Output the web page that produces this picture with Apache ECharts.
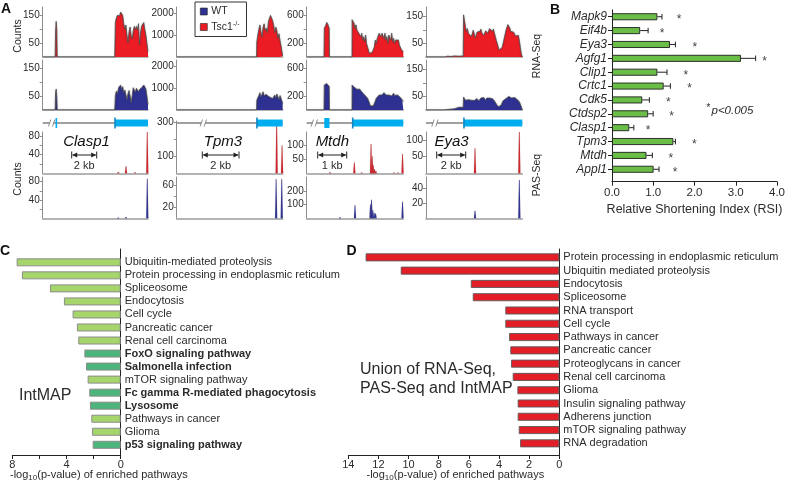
<!DOCTYPE html>
<html>
<head>
<meta charset="utf-8">
<script src="https://cdn.jsdelivr.net/npm/echarts@6.0.0/dist/echarts.min.js"></script>
<style>
html,body{margin:0;padding:0;background:#fff;}
#chart{width:788px;height:489px;}
</style>
</head>
<body>
<div id="chart"></div>
<script>
// ====================== DATA ======================
// Panel A - RNA-Seq coverage (position = % of displayed locus, value = counts)
const clasp1Pos = [0, 11.8, 12.2, 12.8, 13.4, 13.8, 68.4, 69, 70, 71, 72, 73, 74, 75, 76, 77, 78, 79, 80, 81, 82, 83, 84, 85, 86, 87, 88, 89, 90, 91, 92, 93, 94, 95, 96, 97, 98, 99, 100];
const clasp1Tsc = [0, 0, 90, 128, 100, 0, 0, 125, 141, 150, 152, 148, 162, 165, 150, 120, 100, 115, 80, 52, 90, 108, 78, 65, 95, 110, 100, 110, 98, 120, 45, 90, 112, 117, 124, 100, 80, 50, 20];
const clasp1WT  = [0, 0, 60, 75, 48, 0, 0, 52, 68, 58, 80, 86, 90, 74, 84, 62, 72, 70, 38, 58, 70, 50, 26, 52, 80, 74, 64, 78, 82, 66, 74, 72, 80, 78, 90, 95, 76, 50, 20];

const tpm3Pos = [0, 75.3, 75.6, 76.5, 77.5, 78.5, 79.5, 80.5, 81.5, 82.5, 83.5, 84.5, 85.5, 86.5, 87.5, 88.5, 89.5, 90.5, 91.5, 92.5, 93.5, 94.5, 95.5, 96.5, 97.5, 98.5, 99.5, 100];
const tpm3Tsc = [0, 0, 700, 1000, 1250, 1450, 1150, 900, 1350, 1500, 1200, 1300, 1100, 1600, 1750, 1880, 1800, 1650, 1450, 1100, 1350, 1200, 850, 1050, 750, 500, 200, 50];
const tpm3WT  = [0, 0, 450, 550, 650, 780, 600, 700, 820, 650, 560, 700, 760, 620, 700, 560, 640, 520, 600, 680, 540, 720, 600, 480, 650, 520, 450, 300];

const mtdhPos = [0, 17.9, 18.2, 19.5, 20.8, 22.1, 23.3, 23.6, 46.9, 47, 48, 49, 50, 51, 52, 53, 54, 55, 56, 57, 58, 59, 60, 61, 62, 63, 64, 65, 66, 67, 68, 69, 70, 71, 72, 73, 74, 75, 76, 77, 78, 79, 80, 81, 82, 83, 84, 85, 86, 87, 88, 89, 90, 91, 92, 93, 94, 95, 96, 97, 98, 99, 100];
const mtdhTsc = [0, 0, 415, 449, 498, 463, 415, 0, 0, 537, 512, 488, 415, 463, 390, 415, 342, 366, 293, 342, 244, 293, 220, 317, 195, 146, 98, 49, 59, 39, 73, 98, 146, 244, 195, 268, 244, 342, 366, 293, 342, 317, 268, 342, 244, 293, 195, 317, 293, 244, 342, 220, 268, 195, 244, 220, 268, 244, 171, 146, 110, 90, 73];
const mtdhWT  = [0, 0, 360, 374, 380, 360, 340, 0, 0, 360, 350, 330, 340, 310, 298, 320, 278, 300, 312, 260, 240, 230, 216, 200, 192, 170, 144, 100, 58, 50, 48, 60, 72, 130, 168, 180, 192, 215, 240, 225, 216, 235, 250, 230, 216, 200, 192, 215, 230, 210, 202, 225, 240, 210, 192, 205, 216, 200, 192, 180, 160, 144, 120];

const eya3Pos = [0, 19.5, 22, 26, 30, 34, 38.6, 39, 40, 41, 42, 43, 44, 45, 46, 47, 48, 49, 50, 51, 52, 53, 54, 55, 56, 57, 58, 59, 60, 61, 62, 63, 64, 65, 66, 67, 68, 69, 70, 71, 72, 73, 74, 75, 76, 77, 78, 79, 80, 81, 82, 83, 84, 85, 86, 87, 88, 89, 90, 91, 92, 93, 94, 95, 96, 97, 98, 99, 100];
const eya3Tsc = [0, 0, 3, 2, 4, 3, 4, 156, 135, 112, 95, 105, 88, 82, 93, 76, 86, 99, 88, 72, 80, 92, 88, 98, 95, 103, 90, 92, 80, 84, 97, 95, 88, 96, 105, 110, 100, 95, 104, 90, 76, 62, 51, 38, 26, 20, 23, 35, 50, 66, 82, 98, 105, 120, 120, 108, 95, 95, 98, 92, 85, 78, 83, 76, 80, 60, 36, 12, 0];
const eya3WT  = [0, 0, 2, 3, 5, 10, 10, 48, 44, 36, 40, 32, 38, 34, 40, 36, 32, 38, 35, 40, 36, 42, 38, 34, 40, 44, 38, 42, 46, 40, 36, 44, 40, 48, 44, 40, 46, 42, 38, 34, 28, 22, 16, 12, 10, 12, 18, 26, 34, 40, 36, 42, 48, 44, 50, 46, 52, 44, 48, 42, 46, 40, 44, 38, 42, 30, 24, 12, 0];

// Panel A - PAS-Seq read peaks [position %, counts]
const clasp1PasTsc = [[71.8, 3], [79.1, 15], [87.7, 2], [99.3, 88]];
const clasp1PasWT  = [[71.8, 2], [79.1, 3], [99.3, 86]];
const tpm3PasTsc = [[94.3, 300], [99.4, 165]];
const tpm3PasWT  = [[93.8, 70], [99.1, 70]];
const mtdhPasTsc = [[24.1, 4], [49.3, 38], [56.9, 3], [66.6, 103], [67.8, 60], [68.9, 28], [70.2, 14], [71.6, 8], [90.4, 3], [94.5, 3], [99.2, 68]];
const mtdhPasWT  = [[34.5, 8], [50.0, 95], [66.0, 100], [67.1, 135], [68.4, 60], [69.8, 40], [71.3, 35], [99.2, 120]];
const eya3PasTsc = [[50.9, 75], [96.9, 124]];
const eya3PasWT  = [[50.9, 10], [96.9, 51]];

// Gene models: exons [start %, end %, terminal exon flag], intron break position
const clasp1Exons = [[12.2, 13.6, 0], [68.5, 100, 1]];
const tpm3Exons = [[75.5, 100, 1]];
const mtdhExons = [[18.2, 23.6, 0], [47.4, 100, 1]];
const eya3Exons = [[39.2, 100, 1]];
const geneNames = ['Clasp1', 'Tpm3', 'Mtdh', 'Eya3'];
const geneBreaks = [8.5, 25.1, 7.9, 9.3];
const scaleBarLabels = ['2 kb', '2 kb', '1 kb', '2 kb'];

// Axis scales / tick labels for panel A
const rnaMax = [180, 2260, 720, 185];
const rnaTicks = [[50, 100, 150], [1000, 2000], [200, 400, 600], [50, 100, 150]];
const rnaLabels = [[50, 150], [1000, 2000], [200, 600], [50, 150]];
const pasTscMax = [88, 310, 145, 124];
const pasTscTicks = [[20, 40, 60, 80], [100, 200, 300], [50, 100], [50, 100]];
const pasTscLabels = [[40, 80], [100, 300], [50, 100], [50, 100]];
const pasWTMax = [90, 74, 300, 55];
const pasWTTicks = [[20, 40, 60, 80], [20, 40, 60], [100, 200], [20, 40]];
const pasWTLabels = [[40, 80], [20, 60], [100, 200], [20, 40]];

// Panel B
const bGenes = ['Mapk9', 'Eif4b', 'Eya3', 'Agfg1', 'Clip1', 'Crtc1', 'Cdk5', 'Ctdsp2', 'Clasp1', 'Tpm3', 'Mtdh', 'Appl1'];
const bRSI = [1.08, 0.67, 1.38, 3.07, 1.08, 1.23, 0.72, 0.86, 0.41, 1.46, 0.82, 0.99];
const bErr = [0.11, 0.19, 0.13, 0.35, 0.23, 0.16, 0.17, 0.12, 0.11, 0.05, 0.14, 0.13];
const bStarAt = [1.60, 1.19, 1.97, 3.63, 1.76, 1.85, 1.34, 1.42, 0.86, 1.96, 1.40, 1.50];
const bTicks = [0, 1, 2, 3, 4];

// Panel C
const cPathways = ['Ubiquitin-mediated proteolysis', 'Protein processing in endoplasmic reticulum', 'Spliceosome', 'Endocytosis', 'Cell cycle', 'Pancreatic cancer', 'Renal cell carcinoma', 'FoxO signaling pathway', 'Salmonella infection', 'mTOR signaling pathway', 'Fc gamma R-mediated phagocytosis', 'Lysosome', 'Pathways in cancer', 'Glioma', 'p53 signaling pathway'];
const cValues = [7.68, 7.29, 5.22, 4.19, 3.55, 3.23, 3.13, 2.68, 2.56, 2.44, 2.32, 2.27, 2.17, 2.12, 2.07];
const cIntMapOnly = [0, 0, 0, 0, 0, 0, 0, 1, 1, 0, 1, 1, 0, 0, 1];
const cTickLabels = [0, 4, 8];

// Panel D
const dPathways = ['Protein processing in endoplasmic reticulum', 'Ubiquitin mediated proteolysis', 'Endocytosis', 'Spliceosome', 'RNA transport', 'Cell cycle', 'Pathways in cancer', 'Pancreatic cancer', 'Proteoglycans in cancer', 'Renal cell carcinoma', 'Glioma', 'Insulin signaling pathway', 'Adherens junction', 'mTOR signaling pathway', 'RNA degradation'];
const dValues = [12.85, 10.52, 5.87, 5.74, 3.58, 3.58, 3.33, 3.25, 3.20, 3.09, 2.78, 2.76, 2.76, 2.69, 2.60];

// ====================== CHART ======================
const FONT = '"Liberation Sans", Arial, Helvetica, sans-serif';
const RED = '#ec1c24', BLUE = '#2e3192', CYAN = '#00aeef';
const PAS_RED = '#d3252c', PAS_BLUE = '#2e3192';
const TXT = '#2b2b2b', AX = '#8f8f8f';

const genesA = [
  {pos: clasp1Pos, tsc: clasp1Tsc, wt: clasp1WT, pTsc: clasp1PasTsc, pWT: clasp1PasWT, exons: clasp1Exons},
  {pos: tpm3Pos, tsc: tpm3Tsc, wt: tpm3WT, pTsc: tpm3PasTsc, pWT: tpm3PasWT, exons: tpm3Exons},
  {pos: mtdhPos, tsc: mtdhTsc, wt: mtdhWT, pTsc: mtdhPasTsc, pWT: mtdhPasWT, exons: mtdhExons},
  {pos: eya3Pos, tsc: eya3Tsc, wt: eya3WT, pTsc: eya3PasTsc, pWT: eya3PasWT, exons: eya3Exons}
];

const colLeft = [42.7, 176.7, 306.7, 426];
const colWidth = [105.3, 106, 96.6, 96.3];

const grid = [], xAxis = [], yAxis = [], series = [];
function addGrid(g, x, y) {
  const i = grid.length;
  grid.push(Object.assign({containLabel: false}, g));
  xAxis.push(Object.assign({gridIndex: i}, x));
  yAxis.push(Object.assign({gridIndex: i}, y));
  return i;
}
const hiddenAxis = (extra) => Object.assign({type: 'value', show: false}, extra);
const trackX = {type: 'value', min: 0, max: 100, axisLine: {show: true, lineStyle: {color: '#9c9c9c', width: 1.6}},
  axisTick: {show: false}, axisLabel: {show: false}, splitLine: {show: false}};
function trackY(max, ticks, labels) {
  return {type: 'value', min: 0, max: max,
    axisLine: {show: true, lineStyle: {color: AX, width: 1}},
    axisTick: {show: true, length: 3, customValues: ticks, lineStyle: {color: AX}},
    axisLabel: {show: true, customValues: labels, fontSize: 10, color: TXT, margin: 3, formatter: v => String(v)},
    splitLine: {show: false}};
}
function covSeries(name, gi, pos, vals, color) {
  return {name: name, type: 'line', xAxisIndex: gi, yAxisIndex: gi,
    data: pos.map((p, i) => [p, vals[i]]), symbol: 'none', showSymbol: false,
    lineStyle: {color: '#505050', width: 0.8, shadowColor: 'rgba(0,0,0,0.35)', shadowBlur: 1.5},
    areaStyle: {color: color, opacity: 1}, itemStyle: {color: color}, silent: true, z: 3, clip: true};
}
function spikeSeries(name, gi, peaks, color) {
  return {name: name, type: 'custom', xAxisIndex: gi, yAxisIndex: gi, data: peaks, silent: true, z: 3,
    itemStyle: {color: color},
    renderItem: function (params, api) {
      const b = api.coord([api.value(0), 0]);
      const t = api.coord([api.value(0), api.value(1)]);
      return {type: 'polygon', shape: {points: [[b[0] - 1.1, b[1]], [t[0] - 0.35, t[1]], [t[0] + 0.35, t[1]], [b[0] + 1.1, b[1]]]},
        style: {fill: color, stroke: 'rgba(120,120,120,0.35)', lineWidth: 0.4}};
    }};
}

const rowsA = [
  {top: 7, height: 50},
  {top: 60, height: 50},
  {top: 116, height: 14},
  {top: 132, height: 41.3},
  {top: 177, height: 41.3}
];

genesA.forEach((g, c) => {
  const L = colLeft[c], W = colWidth[c];
  const gRT = addGrid({left: L, width: W, top: rowsA[0].top, height: rowsA[0].height}, trackX, trackY(rnaMax[c], rnaTicks[c], rnaLabels[c]));
  const gRW = addGrid({left: L, width: W, top: rowsA[1].top, height: rowsA[1].height}, trackX, trackY(rnaMax[c], rnaTicks[c], rnaLabels[c]));
  const gG = addGrid({left: L, width: W, top: rowsA[2].top, height: rowsA[2].height}, hiddenAxis({min: 0, max: 100}), hiddenAxis({min: 0, max: 1}));
  const ptTop = c === 1 ? 121 : rowsA[3].top;
  const ptH = c === 1 ? 52.3 : rowsA[3].height;
  const gPT = addGrid({left: L, width: W, top: ptTop, height: ptH}, trackX, trackY(pasTscMax[c], pasTscTicks[c], pasTscLabels[c]));
  const gPW = addGrid({left: L, width: W, top: rowsA[4].top, height: rowsA[4].height}, trackX, trackY(pasWTMax[c], pasWTTicks[c], pasWTLabels[c]));

  series.push(covSeries('Tsc1-/-', gRT, g.pos, g.tsc, RED));
  series.push(covSeries('WT', gRW, g.pos, g.wt, BLUE));
  series.push(spikeSeries('Tsc1-/-', gPT, g.pTsc, PAS_RED));
  series.push(spikeSeries('WT', gPW, g.pWT, PAS_BLUE));

  // gene model backbone with break mark
  series.push({type: 'custom', xAxisIndex: gG, yAxisIndex: gG, silent: true, data: [[0, 100, geneBreaks[c]]],
    renderItem: function (params, api) {
      const a = api.coord([api.value(0), 0.5]), b = api.coord([api.value(1), 0.5]), k = api.coord([api.value(2), 0.5]);
      const y = a[1];
      return {type: 'group', children: [
        {type: 'line', shape: {x1: a[0], y1: y, x2: b[0], y2: y}, style: {stroke: '#808080', lineWidth: 1.6}},
        {type: 'rect', shape: {x: k[0] - 2, y: y - 2, width: 4, height: 4}, style: {fill: '#fff'}},
        {type: 'line', shape: {x1: k[0] - 3.2, y1: y + 3.5, x2: k[0] - 0.8, y2: y - 3.5}, style: {stroke: '#808080', lineWidth: 0.9}},
        {type: 'line', shape: {x1: k[0] + 0.8, y1: y + 3.5, x2: k[0] + 3.2, y2: y - 3.5}, style: {stroke: '#808080', lineWidth: 0.9}}
      ]};
    }});
  // exons
  series.push({type: 'custom', xAxisIndex: gG, yAxisIndex: gG, silent: true, data: g.exons, z: 4,
    renderItem: function (params, api) {
      const s = api.coord([api.value(0), 0.5]), e = api.coord([api.value(1), 0.5]);
      const terminal = api.value(2) === 1;
      const h = terminal ? 7 : 10;
      const ch = [{type: 'rect', shape: {x: s[0], y: s[1] - h / 2, width: Math.max(e[0] - s[0], 1.6), height: h}, style: {fill: CYAN}}];
      if (terminal) ch.push({type: 'rect', shape: {x: s[0] - 0.6, y: s[1] - 5.5, width: 1.6, height: 11}, style: {fill: '#1487c4'}});
      return {type: 'group', children: ch};
    }});
});

// ---- Panel B ----
const gBb = addGrid({left: 612, width: 168, top: 9.8, height: 166.4},
  {type: 'value', min: 0, max: 4, show: false},
  {type: 'category', data: bGenes, inverse: true, axisLine: {show: false},
    axisTick: {show: true, alignWithLabel: true, interval: 0, length: 4, lineStyle: {color: '#222'}},
    axisLabel: {interval: 0, fontSize: 12, fontStyle: 'italic', color: TXT, margin: 5}});
const gBa = addGrid({left: 612, width: 168, top: 9.8, height: 171.9},
  {type: 'value', min: 0, max: 4, axisLine: {lineStyle: {color: '#222', width: 1}},
    axisTick: {show: true, length: 4, customValues: bTicks, lineStyle: {color: '#222'}},
    axisLabel: {customValues: bTicks, fontSize: 11.5, color: TXT, margin: 5, formatter: v => v.toFixed(1)},
    splitLine: {show: false},
    name: 'Relative Shortening Index (RSI)', nameLocation: 'middle', nameGap: 21,
    nameTextStyle: {fontSize: 12.5, color: TXT}},
  {type: 'value', min: 0, max: 1, axisLine: {show: true, lineStyle: {color: '#222', width: 1}},
    axisTick: {show: false}, axisLabel: {show: false}, splitLine: {show: false}});
series.push({type: 'bar', xAxisIndex: gBb, yAxisIndex: gBb, data: bRSI, barWidth: 7, silent: true,
  itemStyle: {color: '#6abd46', borderColor: '#1e1e1e', borderWidth: 0.9}});
series.push({type: 'custom', xAxisIndex: gBb, yAxisIndex: gBb, silent: true, z: 4,
  data: bGenes.map((g, i) => [bRSI[i], i, bRSI[i] + bErr[i]]), encode: {x: [0, 2], y: 1},
  renderItem: function (params, api) {
    const p0 = api.coord([api.value(0), api.value(1)]), p1 = api.coord([api.value(2), api.value(1)]);
    return {type: 'group', children: [
      {type: 'line', shape: {x1: p0[0], y1: p0[1], x2: p1[0], y2: p1[1]}, style: {stroke: '#222', lineWidth: 1}},
      {type: 'line', shape: {x1: p1[0], y1: p1[1] - 2.8, x2: p1[0], y2: p1[1] + 2.8}, style: {stroke: '#222', lineWidth: 1}}
    ]};
  }});
series.push({type: 'custom', xAxisIndex: gBb, yAxisIndex: gBb, silent: true, z: 4,
  data: bGenes.map((g, i) => [bStarAt[i], i]),
  renderItem: function (params, api) {
    const p = api.coord([api.value(0), api.value(1)]);
    return {type: 'text', x: p[0], y: p[1] + 3, style: {text: '*', fontSize: 12, fontFamily: FONT, fill: '#444', align: 'center', verticalAlign: 'middle'}};
  }});

// ---- Panel C ----
const gCb = addGrid({left: 12.3, width: 108.4, top: 255.8, height: 195.5},
  {type: 'value', min: 0, max: 8, inverse: true, show: false},
  {type: 'category', data: cPathways, inverse: true, position: 'right', axisLine: {show: false}, axisTick: {show: false},
    axisLabel: {interval: 0, fontSize: 11, color: TXT, margin: 4,
      formatter: (v, i) => cIntMapOnly[i] ? '{b|' + v + '}' : v,
      rich: {b: {fontSize: 11, fontWeight: 'bold', color: TXT}}}});
const gCa = addGrid({left: 12.3, width: 108.4, top: 249, height: 206},
  {type: 'value', min: 0, max: 8, inverse: true, interval: 2, axisLine: {lineStyle: {color: '#222', width: 1}},
    axisTick: {show: true, length: 4, lineStyle: {color: '#222'}},
    axisLabel: {customValues: cTickLabels, fontSize: 11, color: TXT, margin: 4}, splitLine: {show: false}},
  {type: 'value', min: 0, max: 1, position: 'right', axisLine: {show: true, lineStyle: {color: '#222', width: 1}},
    axisTick: {show: false}, axisLabel: {show: false}, splitLine: {show: false}});
series.push({type: 'bar', xAxisIndex: gCb, yAxisIndex: gCb, data: cValues, barWidth: 8, silent: true,
  itemStyle: {borderColor: '#8c8c8c', borderWidth: 1,
    color: p => cIntMapOnly[p.dataIndex] ? '#4cb57c' : '#a6d56c'}});

// ---- Panel D ----
const gDb = addGrid({left: 348.3, width: 211, top: 250.7, height: 199.3},
  {type: 'value', min: 0, max: 14, inverse: true, show: false},
  {type: 'category', data: dPathways, inverse: true, position: 'right', axisLine: {show: false}, axisTick: {show: false},
    axisLabel: {interval: 0, fontSize: 11, color: TXT, margin: 4}});
const gDa = addGrid({left: 348.3, width: 211, top: 249, height: 206},
  {type: 'value', min: 0, max: 14, inverse: true, interval: 2, axisLine: {lineStyle: {color: '#222', width: 1}},
    axisTick: {show: true, length: 4, lineStyle: {color: '#222'}},
    axisLabel: {fontSize: 11, color: TXT, margin: 4}, splitLine: {show: false}},
  {type: 'value', min: 0, max: 1, position: 'right', axisLine: {show: true, lineStyle: {color: '#222', width: 1}},
    axisTick: {show: false}, axisLabel: {show: false}, splitLine: {show: false}});
series.push({type: 'bar', xAxisIndex: gDb, yAxisIndex: gDb, data: dValues, barWidth: 8, silent: true,
  itemStyle: {color: '#e31e26', borderColor: '#5a5a5a', borderWidth: 0.9}});

// ---- annotations ----
function txt(text, x, y, o) {
  return {type: 'text', x: x, y: y, rotation: (o && o.rot) || 0, silent: true,
    style: Object.assign({text: text, fontFamily: FONT, fontSize: 10.5, fill: TXT, align: 'left', verticalAlign: 'middle'}, o && o.style)};
}
function scaleBar(x1, x2, y) {
  const s = {stroke: '#222', lineWidth: 1};
  return {type: 'group', silent: true, children: [
    {type: 'line', shape: {x1: x1, y1: y - 3.5, x2: x1, y2: y + 3.5}, style: s},
    {type: 'line', shape: {x1: x2, y1: y - 3.5, x2: x2, y2: y + 3.5}, style: s},
    {type: 'line', shape: {x1: x1 + 1, y1: y, x2: x2 - 1, y2: y}, style: s},
    {type: 'polygon', shape: {points: [[x1 + 0.5, y], [x1 + 5.5, y - 2.6], [x1 + 5.5, y + 2.6]]}, style: {fill: '#222'}},
    {type: 'polygon', shape: {points: [[x2 - 0.5, y], [x2 - 5.5, y - 2.6], [x2 - 5.5, y + 2.6]]}, style: {fill: '#222'}}
  ]};
}
const bold14 = {fontSize: 14, fontWeight: 'bold', fill: '#111', verticalAlign: 'top'};
const geneLabelX = [86.5, 223, 332.3, 451.5];
const barSpans = [[71.7, 96.7], [202.3, 239], [317.7, 346.7], [436.7, 465.7]];
const graphics = [
  txt('A', 1, 2, {style: bold14}),
  txt('B', 550, 3, {style: bold14}),
  txt('C', 0, 244, {style: bold14}),
  txt('D', 346.5, 244, {style: bold14}),
  txt('Counts', 18, 36, {rot: Math.PI / 2, style: {align: 'center', fontSize: 10.5}}),
  txt('Counts', 18, 179, {rot: Math.PI / 2, style: {align: 'center', fontSize: 10.5}}),
  txt('RNA-Seq', 537, 56, {rot: Math.PI / 2, style: {align: 'center', fontSize: 10.5}}),
  txt('PAS-Seq', 537, 175, {rot: Math.PI / 2, style: {align: 'center', fontSize: 10.5}}),
  txt('*', 706, 108, {style: {fontSize: 10, fontStyle: 'italic'}}),
  txt('p<0.005', 711.5, 111, {style: {fontSize: 11.5, fontStyle: 'italic'}}),
  txt('IntMAP', 19, 396, {style: {fontSize: 16}}),
  txt('Union of RNA-Seq,', 360, 369.5, {style: {fontSize: 16}}),
  txt('PAS-Seq and IntMAP', 360, 388.5, {style: {fontSize: 16}}),
  txt('-log{s|10}(p-value) of enriched pathways', 10, 474.5, {style: {fontSize: 11, rich: {s: {fontSize: 8, padding: [7, 0, 0, 0]}}}}),
  txt('-log{s|10}(p-value) of enriched pathways', 366.5, 474.5, {style: {fontSize: 11, rich: {s: {fontSize: 8, padding: [7, 0, 0, 0]}}}})
];
geneNames.forEach((n, c) => {
  graphics.push(txt(n, geneLabelX[c], 142, {style: {fontSize: 15, fontStyle: 'italic', align: 'center', fill: '#111'}}));
  graphics.push(scaleBar(barSpans[c][0], barSpans[c][1], 155));
  graphics.push(txt(scaleBarLabels[c], (barSpans[c][0] + barSpans[c][1]) / 2, 165.5, {style: {fontSize: 11, align: 'center'}}));
});

const option = {
  animation: false,
  textStyle: {fontFamily: FONT},
  grid: grid, xAxis: xAxis, yAxis: yAxis, series: series,
  legend: {
    left: 195, top: 2, orient: 'vertical', selectedMode: false,
    icon: 'rect', itemWidth: 7, itemHeight: 7, itemGap: 4,
    padding: [4, 7, 4, 5], borderColor: '#333', borderWidth: 1,
    data: [
      {name: 'WT', itemStyle: {color: BLUE, borderColor: '#222', borderWidth: 0.6}},
      {name: 'Tsc1-/-', itemStyle: {color: RED, borderColor: '#222', borderWidth: 0.6}}
    ],
    formatter: n => n === 'Tsc1-/-' ? 'Tsc1{sup|-/-}' : n,
    textStyle: {fontSize: 10.5, color: TXT, padding: [0, 0, 0, -1], rich: {sup: {fontSize: 7, padding: [0, 0, 5, 0]}}}
  },
  graphic: {elements: graphics}
};
const chart = echarts.init(document.getElementById('chart'), null, {renderer: 'canvas'});
chart.setOption(option);
</script>
</body>
</html>
